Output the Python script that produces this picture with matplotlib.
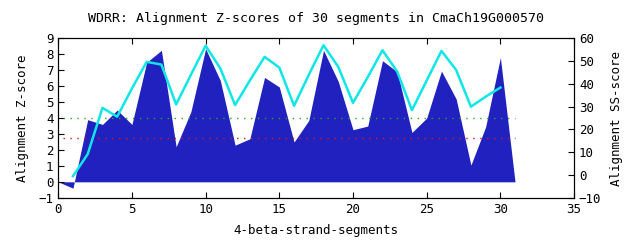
import matplotlib

matplotlib.use("Agg")
import matplotlib.pyplot as plt
import numpy as np

# segment positions and scores
segments = list(range(0, 32))
z_scores = [0, -0.4, 3.9, 3.6, 4.5, 3.6, 7.5, 8.25, 2.2, 4.4, 8.35, 6.35, 2.3, 2.7,
            6.55, 5.95, 2.5, 3.85, 8.25, 6.3, 3.27, 3.5, 7.6, 6.9, 3.1, 4.0, 6.95,
            5.2, 1.05, 3.45, 7.8, -0.05]

ss_positions = list(range(1, 31))
ss_scores = [-0.5, 9.2, 29.5, 25.6, 38.0, 49.7, 48.5, 31.0, 44.0, 56.8, 46.8, 30.7,
             41.5, 51.9, 47.2, 30.4, 44.0, 57.0, 47.5, 31.7, 43.0, 54.8, 45.4, 28.5,
             41.5, 54.5, 46.1, 30.0, 34.4, 38.4]

green_threshold = 4.02
red_threshold = 2.72
threshold_span = [0.3, 31]

plt.rcParams["font.family"] = ["DejaVu Sans Mono"]
plt.rcParams["font.size"] = 9

fig = plt.figure(figsize=(6.4, 2.4), dpi=100)
ax = fig.add_axes([0.091, 0.176, 0.806, 0.664])

ax.fill_between(segments, z_scores, 0, color="#2121bf", linewidth=0)
ax.plot(threshold_span, [green_threshold] * 2, color="#22aa22", linestyle=(0, (1, 4)), linewidth=1)
ax.plot(threshold_span, [red_threshold] * 2, color="#ee1111", linestyle=(0, (1, 4)), linewidth=1)

ax.set_xlim(0, 35)
ax.set_ylim(-1, 9)
ax.set_xticks(range(0, 36, 5))
ax.set_yticks(range(-1, 10))
ax.tick_params(direction="in", top=True, length=4)
ax.set_xlabel("4-beta-strand-segments", labelpad=6)
ax.set_ylabel("Alignment Z-score", labelpad=7)

ax2 = ax.twinx()
ax2.plot(ss_positions, ss_scores, color="#11e6e6", linewidth=1.8)
ax2.set_ylim(-10, 60)
ax2.set_yticks(range(-10, 61, 10))
ax2.tick_params(direction="in", length=4)
ax2.set_ylabel("Alignment SS-score", labelpad=6)

ax.set_title("WDRR: Alignment Z-scores of 30 segments in CmaCh19G000570",
             fontsize=9.5, pad=12)

fig.savefig("out.png")
